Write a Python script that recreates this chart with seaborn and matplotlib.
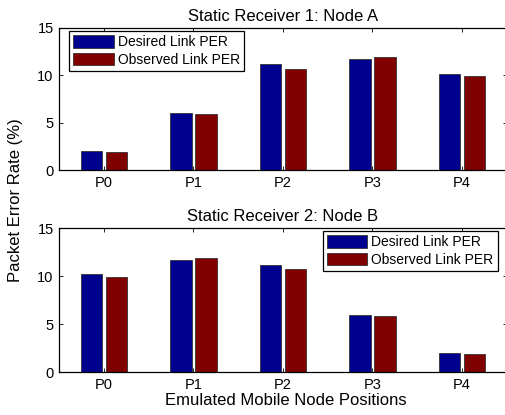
import matplotlib
matplotlib.use("Agg")
import matplotlib.pyplot as plt
import seaborn as sns
import pandas as pd

# Packet error rates (%) at each emulated mobile node position
positions = ["P0", "P1", "P2", "P3", "P4"]
series_names = ["Desired Link PER", "Observed Link PER"]
node_a_desired = [2.0, 6.0, 11.2, 11.7, 10.2]
node_a_observed = [1.9, 5.9, 10.7, 11.9, 9.9]
node_b_desired = [10.2, 11.7, 11.2, 6.0, 2.0]
node_b_observed = [9.9, 11.9, 10.7, 5.9, 1.9]
titles = ["Static Receiver 1: Node A", "Static Receiver 2: Node B"]
yticks = [0, 5, 10, 15]

def long_table(desired, observed):
    rows = []
    for pos, d, o in zip(positions, desired, observed):
        rows.append({"Position": pos, "Series": series_names[0], "PER": d})
        rows.append({"Position": pos, "Series": series_names[1], "PER": o})
    return pd.DataFrame(rows)

tables = [long_table(node_a_desired, node_a_observed),
          long_table(node_b_desired, node_b_observed)]

sns.set_theme(style="white")
plt.rcParams["font.family"] = ["Liberation Sans", "DejaVu Sans"]
plt.rcParams["text.color"] = "black"
plt.rcParams["xtick.color"] = "black"
plt.rcParams["ytick.color"] = "black"
plt.rcParams["axes.labelcolor"] = "black"

palette = {series_names[0]: "#00008f", series_names[1]: "#800000"}

fig = plt.figure(figsize=(5.05, 4.15), dpi=100)
ax_rects = [
    [0.1173, 0.5892, 0.886, 0.3434],
    [0.1173, 0.1029, 0.886, 0.3477],
]
legend_locs = [("upper left", (0.022, 0.979)), ("upper right", (0.980, 0.979))]

for rect, df, title, (loc, anchor) in zip(ax_rects, tables, titles, legend_locs):
    ax = fig.add_axes(rect)
    sns.barplot(data=df, x="Position", y="PER", hue="Series", order=positions,
                hue_order=series_names, palette=palette, width=0.56, gap=0.143,
                edgecolor="#333333", linewidth=0.6, saturation=1, ax=ax)
    ax.set_xlim(-0.5, 4.5)
    ax.set_ylim(0, 15)
    ax.set_yticks(yticks)
    ax.set_xlabel("")
    ax.set_ylabel("")
    ax.set_title(title, fontsize=12, pad=5, color="black")
    for sp in ax.spines.values():
        sp.set_visible(True)
        sp.set_color("black")
        sp.set_linewidth(0.9)
    ax.tick_params(direction="in", length=3, width=0.6, color="black",
                   labelcolor="black", top=True, right=True, bottom=True,
                   left=True, labelsize=10.5, pad=4)
    ax.tick_params(axis="x", pad=4)
    handles, labels = ax.get_legend_handles_labels()
    ax.legend(handles, labels, loc=loc, bbox_to_anchor=anchor, fontsize=10,
              frameon=True, fancybox=False, edgecolor="black", framealpha=1,
              handlelength=2.9, handleheight=1.0, handletextpad=0.3,
              borderpad=0.3, labelspacing=0.25, borderaxespad=0)
    ax.get_legend().get_frame().set_linewidth(0.9)

fig.text(0.565, 1 - 400 / 415, "Emulated Mobile Node Positions", ha="center",
         va="center", fontsize=12)
fig.text(0.03, 0.518, "Packet Error Rate (%)", rotation=90, ha="center",
         va="center", fontsize=12)

fig.savefig("out.png", dpi=100)
